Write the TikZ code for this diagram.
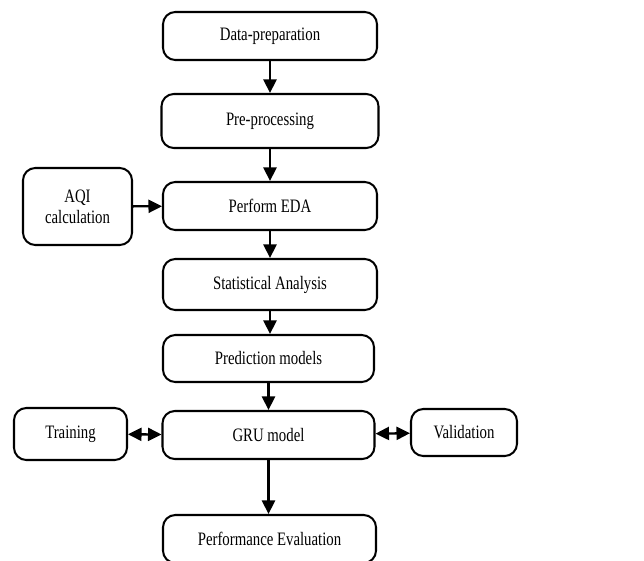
\documentclass[tikz,border=0pt]{standalone}
\usepackage{fontspec}
\setmainfont{Liberation Serif}[FakeStretch=0.78]
\usepackage{tikz}
\usetikzlibrary{arrows.meta, positioning}
\definecolor{boxBorder}{RGB}{0,0,0}
\definecolor{arrowBlack}{RGB}{0,0,0}

\begin{document}
\begin{tikzpicture}[
    >={Triangle[length=0.27cm, width=0.26cm]},
    % Rounded process block
    proc/.style={
        rectangle, rounded corners=7pt,
        draw=boxBorder, fill=white,
        line width=1.15pt,
        minimum width=#1, align=center,
        minimum height=0.96cm,
        font=\fontsize{10.8}{12}\selectfont, inner sep=3pt
    },
    proc/.default=4.28cm,
    flow/.style={->, line width=1.3pt, draw=arrowBlack}
]
\useasboundingbox (0,0) rectangle (12.88,-11.2);
% ── MAIN COLUMN ───────────────────────────────────────────────
\node[proc]                            (prep)    at (5.40, -0.72) {Data-preparation};
\node[proc=4.34cm, minimum height=1.08cm] (preproc) at (5.40, -2.42) {Pre-processing};
\node[proc]                            (eda)     at (5.40, -4.12) {Perform EDA};
\node[proc, minimum height=1.02cm]     (stat)    at (5.40, -5.69) {Statistical Analysis};
\node[proc=4.22cm, minimum height=0.94cm] (pred)  at (5.37, -7.17) {Prediction models};
\node[proc=4.24cm]                     (gru)     at (5.37, -8.70) {GRU model};
\node[proc=4.26cm]                     (perf)    at (5.39,-10.78) {Performance Evaluation};
% ── SIDE BOXES ────────────────────────────────────────────────
\node[proc=2.18cm, minimum height=1.54cm] (aqi)   at (1.55, -4.13) {AQI\\calculation};
\node[proc=2.26cm, minimum height=1.04cm] (train) at (1.41, -8.68) {Training};
\node[proc=2.12cm, minimum height=0.94cm] (valid) at (9.28, -8.65) {Validation};
% ── ARROWS ────────────────────────────────────────────────────
\draw[flow] (prep)    -- (preproc);
\draw[flow] (preproc) -- (eda);
\draw[flow] (eda)     -- (stat);
\draw[flow] (stat.south) -- (stat.south |- pred.north);
\draw[flow] (pred)    -- (gru);
\draw[flow] (gru.south) -- (gru.south |- perf.north);
\draw[flow] (aqi)     -- (eda);
\draw[flow, <->] (train) -- (gru);
\draw[flow, <->] (gru)   -- (valid);
\end{tikzpicture}
\end{document}
